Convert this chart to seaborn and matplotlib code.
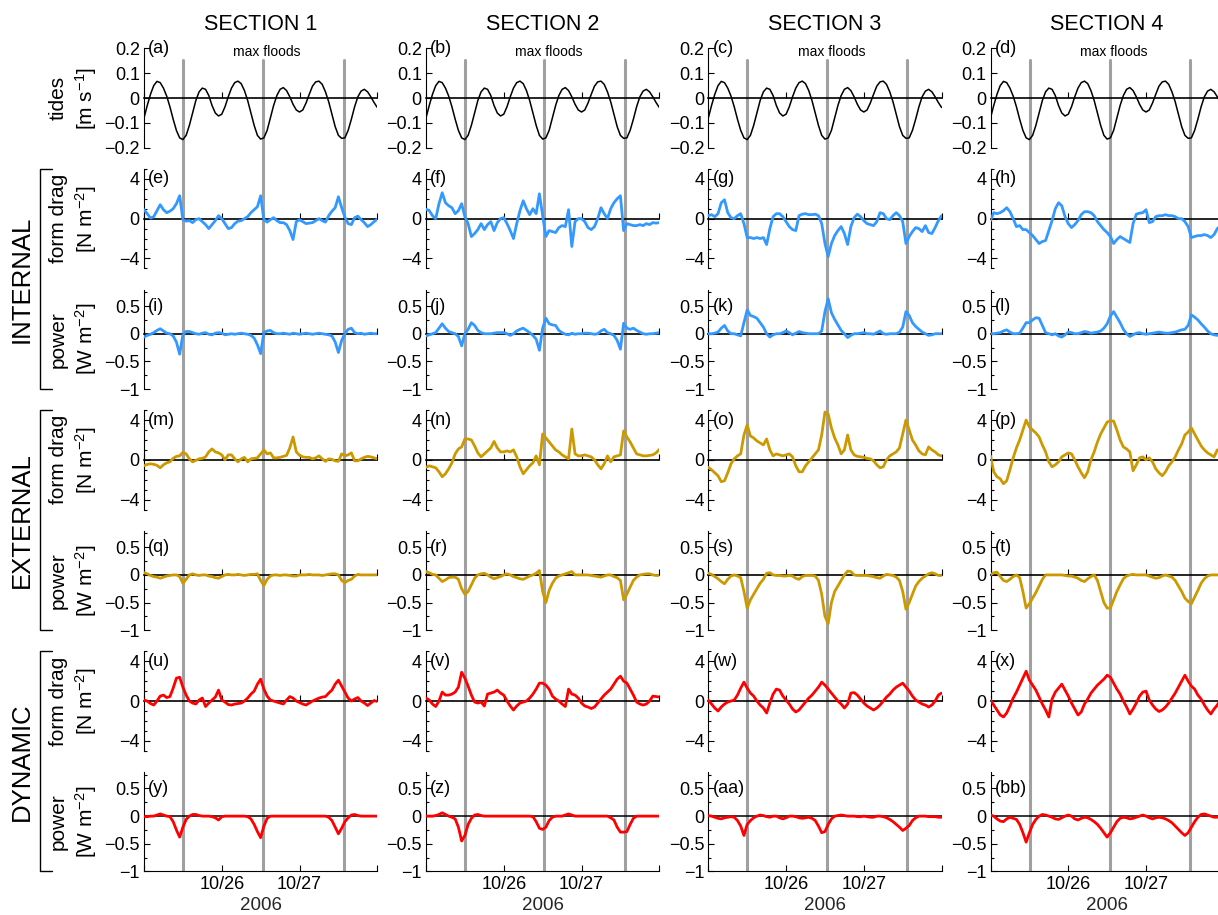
import numpy as np
import pandas as pd
import matplotlib
matplotlib.use("Agg")
import matplotlib.pyplot as plt
import matplotlib.transforms as mtransforms
from matplotlib.lines import Line2D
import seaborn as sns

# ---------------- data (hours since 2006-10-25 00:00) ----------------
hours = np.arange(0, 73)

tide = [-0.080, -0.030, 0.015, 0.050, 0.067, 0.062, 0.040, 0.008, -0.035, -0.085, -0.130, -0.160,
        -0.167, -0.150, -0.110, -0.060, -0.010, 0.025, 0.040, 0.035, 0.010, -0.030, -0.060, -0.072,
        -0.065, -0.035, 0.005, 0.040, 0.062, 0.068, 0.058, 0.030, -0.010, -0.060, -0.110, -0.150,
        -0.165, -0.160, -0.130, -0.080, -0.030, 0.010, 0.035, 0.042, 0.030, 0.005, -0.025, -0.048,
        -0.056, -0.048, -0.020, 0.015, 0.048, 0.065, 0.068, 0.055, 0.025, -0.015, -0.065, -0.115,
        -0.150, -0.162, -0.160, -0.130, -0.085, -0.035, 0.005, 0.028, 0.035, 0.025, 0.005, -0.018,
        -0.038]

# Section 1
int_drag_1 = [0.9, 0.5, 0.05, 0.2, 0.8, 1.4, 0.9, 0.6, 0.75, 1.0, 1.5, 2.3,
              -0.1, -0.25, -0.2, -0.4, -0.1, 0.0, -0.3, -0.6, -1.0, -0.6, -0.2, 0.3,
              0.0, -0.5, -1.0, -0.9, -0.5, -0.25, -0.2, 0.0, 0.2, 0.6, 0.9, 1.2,
              2.3, -0.1, -0.35, -0.1, 0.1, -0.2, -0.4, -0.4, -0.6, -1.2, -2.1, -0.3,
              -0.1, -0.3, -0.5, -0.45, -0.4, -0.2, 0.0, -0.2, -0.35, 0.3, 0.75, 1.1,
              2.2, 1.1, 0.15, -0.5, -0.6, 0.1, 0.25, -0.1, -0.4, -0.8, -0.6, -0.3,
              -0.05]
int_pow_1 = [-0.06, -0.03, -0.01, 0.02, 0.06, 0.09, 0.05, 0.01, 0.0, -0.04, -0.15, -0.37,
             -0.02, 0.04, 0.04, 0.02, 0.0, -0.01, 0.01, 0.02, -0.01, -0.02, 0.01, 0.02,
             0.01, -0.02, -0.01, 0.0, -0.01, 0.0, 0.01, 0.0, -0.01, -0.03, -0.08, -0.2,
             -0.36, 0.02, 0.05, 0.06, 0.02, 0.0, 0.0, 0.01, 0.0, -0.01, 0.01, 0.0,
             -0.01, 0.0, 0.01, 0.0, -0.01, 0.0, 0.01, 0.0, -0.01, -0.02, -0.04, -0.15,
             -0.34, -0.12, 0.0, 0.08, 0.1, 0.02, 0.0, 0.01, -0.01, 0.0, 0.01, 0.0,
             0.0]
ext_drag_1 = [-0.6, -0.45, -0.4, -0.45, -0.55, -0.8, -0.5, -0.3, -0.2, 0.15, 0.35, 0.4,
              0.75, 0.6, 0.1, -0.2, -0.05, 0.1, 0.15, 0.3, 0.8, 1.1, 0.8, 0.7,
              0.5, 0.0, 0.5, 0.5, 0.1, -0.2, 0.1, 0.25, -0.2, 0.1, 0.15, 0.2,
              0.6, 1.0, 0.6, 0.7, 0.2, 0.2, 0.25, 0.35, 0.45, 1.2, 2.3, 0.8,
              0.45, 0.3, 0.25, 0.25, 0.1, 0.2, 0.4, 0.1, -0.15, 0.1, 0.05, -0.1,
              -0.15, 0.6, 0.4, 0.5, 0.7, -0.1, -0.1, 0.1, 0.25, 0.35, 0.3, 0.2,
              0.1]
ext_pow_1 = [0.04, 0.02, -0.01, -0.03, -0.04, -0.06, -0.04, -0.02, -0.01, 0.0, 0.0, -0.03,
             -0.15, -0.08, 0.0, 0.02, 0.0, -0.01, 0.0, 0.0, -0.02, -0.03, -0.05, -0.06,
             -0.03, 0.0, 0.01, 0.0, 0.0, 0.01, 0.0, -0.01, 0.0, 0.01, 0.01, 0.02,
             -0.1, -0.19, -0.08, -0.02, 0.0, 0.0, -0.01, 0.0, 0.0, -0.01, -0.02, -0.02,
             0.0, 0.0, 0.0, 0.01, 0.0, 0.0, 0.0, -0.01, 0.0, 0.01, 0.02, 0.02,
             0.0, -0.1, -0.14, -0.1, -0.08, -0.02, 0.01, 0.0, 0.0, 0.0, 0.0, 0.0,
             0.0]
dyn_drag_1 = [0.1, 0.0, -0.25, -0.4, 0.0, 0.5, 0.6, 0.35, 0.45, 1.3, 2.3, 2.4,
              1.4, 0.6, 0.0, -0.2, -0.3, 0.1, 0.3, -0.55, -0.2, 0.1, 0.4, 1.1,
              0.1, -0.1, -0.35, -0.4, -0.3, -0.25, -0.2, 0.0, 0.3, 0.7, 1.0, 1.7,
              2.2, 1.2, 0.5, 0.1, 0.0, -0.1, -0.2, -0.3, 0.1, 0.45, 0.3, 0.0,
              -0.15, -0.3, -0.4, -0.2, 0.0, 0.15, 0.3, 0.4, 0.45, 0.8, 1.1, 1.7,
              2.1, 1.5, 0.9, 0.3, 0.0, 0.2, 0.35, 0.0, -0.2, -0.45, -0.2, 0.05,
              -0.05]
dyn_pow_1 = [-0.01, -0.01, 0.0, 0.0, 0.02, 0.04, 0.02, 0.0, -0.01, -0.1, -0.25, -0.38,
             -0.2, -0.06, 0.0, 0.03, 0.03, 0.01, 0.0, 0.0, 0.0, -0.01, -0.03, -0.07,
             -0.01, 0.0, 0.0, 0.0, 0.0, 0.0, 0.0, 0.0, -0.01, -0.05, -0.15, -0.28,
             -0.39, -0.18, -0.04, 0.0, 0.0, 0.0, 0.0, 0.0, 0.0, 0.0, 0.0, 0.0,
             0.0, 0.0, 0.0, 0.0, 0.0, 0.0, 0.0, 0.0, 0.0, -0.02, -0.08, -0.2,
             -0.32, -0.22, -0.1, -0.03, 0.02, 0.03, 0.01, 0.0, 0.0, 0.0, 0.0, 0.0,
             0.0]

# Section 2
int_drag_2 = [0.95, 0.8, 0.3, 0.0, 1.5, 2.6, 1.6, 1.3, 1.1, 0.5, 0.8, 1.5,
              0.2, -0.5, -1.8, -1.5, -1.1, -0.5, -1.1, -0.6, -0.3, -1.2, -0.4, 0.0,
              0.1, -0.5, -1.2, -2.0, -0.5, 0.8, 1.8, 1.0, 0.4, 1.0, 0.5, 2.5,
              0.3, -1.8, -1.2, -1.3, -1.4, -0.9, -0.7, -0.8, 0.9, -2.8, -0.3, 0.0,
              0.0, -0.3, -0.9, -1.1, -0.8, 0.0, 1.1, 0.5, 0.0, 1.0, 1.6, 2.0,
              2.3, -1.2, -0.5, -0.6, -0.7, -0.7, -0.6, -0.7, -0.5, -0.6, -0.4, -0.45,
              -0.4]
int_pow_2 = [-0.04, -0.02, 0.0, 0.02, 0.1, 0.18, 0.1, 0.04, 0.02, 0.0, -0.05, -0.22,
             0.0, 0.08, 0.2, 0.15, 0.06, 0.02, 0.0, 0.0, 0.0, 0.01, 0.02, 0.02,
             0.02, 0.0, -0.03, 0.0, 0.05, 0.08, 0.1, 0.06, 0.02, -0.03, -0.1, -0.3,
             0.1, 0.28, 0.18, 0.16, 0.15, 0.06, 0.02, -0.01, -0.02, 0.01, -0.01, 0.0,
             0.0, 0.01, 0.01, 0.0, -0.01, 0.0, 0.05, 0.08, 0.02, 0.0, -0.03, -0.12,
             -0.28, 0.19, 0.1, 0.08, 0.1, 0.06, 0.03, 0.0, -0.01, 0.0, 0.0, 0.01,
             0.02]
ext_drag_2 = [-0.75, -0.6, -0.7, -0.8, -1.2, -1.7, -1.4, -0.9, -0.3, 0.6, 1.1, 1.3,
              2.1, 2.1, 2.0, 1.4, 0.7, 0.3, 0.6, 0.9, 1.2, 1.85, 1.2, 0.8,
              0.8, 0.9, 0.8, 1.0, 0.3, -0.7, -1.4, -1.0, -0.6, -0.3, 0.4, -0.5,
              2.6, 2.2, 1.8, 1.4, 1.0, 0.8, 0.5, 0.3, 0.1, 3.1, 0.6, 0.4,
              0.4, 0.5, 0.4, 0.3, 0.0, -0.5, -0.9, -0.4, 0.4, -0.2, 0.3, 0.4,
              0.5, 2.9, 2.3, 1.8, 1.2, 0.6, 0.5, 0.4, 0.4, 0.45, 0.5, 0.7,
              1.05]
ext_pow_2 = [0.06, 0.04, 0.01, 0.0, -0.06, -0.12, -0.09, -0.05, -0.04, -0.04, -0.08, -0.25,
             -0.35, -0.3, -0.18, -0.06, 0.0, 0.02, 0.03, 0.0, -0.04, -0.07, -0.05, -0.03,
             0.0, 0.02, 0.0, -0.03, -0.05, -0.07, -0.08, -0.05, -0.02, 0.0, 0.03, 0.08,
             -0.3, -0.5, -0.28, -0.15, -0.06, -0.02, 0.0, 0.02, 0.04, 0.06, 0.0, 0.0,
             0.0, 0.0, 0.0, -0.01, -0.02, -0.03, -0.04, -0.02, 0.0, 0.0, -0.03, -0.05,
             -0.1, -0.45, -0.35, -0.22, -0.1, -0.04, 0.0, 0.01, 0.02, 0.02, 0.0, -0.01,
             -0.01]
dyn_drag_2 = [0.3, 0.1, -0.3, -0.55, 0.0, 0.9, 0.6, 0.6, 0.7, 0.9, 1.4, 2.9,
              2.3, 1.5, 0.6, -0.1, -0.2, -0.1, -0.5, 0.7, 0.8, 0.9, 1.1, 0.8,
              0.6, 0.0, -0.5, -0.9, -0.5, -0.2, -0.1, 0.0, 0.3, 0.7, 1.2, 1.8,
              1.8, 1.6, 1.2, 0.5, 0.2, 0.0, -0.3, -0.55, 1.2, 0.7, 0.6, 0.3,
              -0.2, -0.5, -0.6, -0.75, -0.6, -0.2, 0.2, 0.6, 0.9, 1.2, 1.7, 2.2,
              2.5, 2.0, 1.8, 1.2, 0.6, -0.1, -0.3, -0.4, -0.3, 0.0, 0.5, 0.45,
              0.4]
dyn_pow_2 = [0.0, 0.0, 0.0, 0.01, 0.03, 0.06, 0.03, 0.0, -0.02, -0.05, -0.2, -0.45,
             -0.35, -0.15, -0.04, 0.02, 0.03, 0.01, 0.0, 0.0, 0.0, 0.0, 0.0, 0.0,
             0.0, 0.0, 0.0, 0.0, 0.0, 0.0, 0.0, 0.0, 0.0, -0.01, -0.1, -0.22,
             -0.24, -0.2, -0.08, -0.02, 0.0, 0.0, 0.0, 0.02, 0.04, 0.02, 0.0, 0.0,
             0.0, 0.0, 0.0, 0.0, 0.0, 0.0, 0.0, 0.0, 0.0, -0.03, -0.07, -0.2,
             -0.29, -0.29, -0.28, -0.15, -0.04, 0.0, 0.0, 0.0, 0.0, 0.0, 0.0, 0.0,
             0.0]

# Section 3
int_drag_3 = [0.3, 0.4, 0.2, 0.5, 1.6, 1.9, 0.6, 0.1, 0.0, 0.3, 0.5, -0.5,
              -1.9, -1.9, -2.0, -1.9, -2.0, -1.9, -2.6, -1.0, 0.2, 0.5, 0.5, 0.2,
              -0.3, -0.8, -1.1, -1.2, 0.3, 0.45, 0.5, 0.4, 0.4, 0.45, 0.3, -0.5,
              -2.5, -3.8, -2.5, -1.7, -1.2, -0.8, -1.5, -2.6, -0.8, 0.1, 0.45, 0.2,
              -0.2, -0.5, -0.6, -0.7, -0.3, 0.6, 0.5, 0.0, -0.1, 0.3, 0.6, 0.3,
              -0.3, -2.5, -1.8, -1.3, -0.9, -1.0, -1.3, -0.7, -1.4, -1.5, -0.9, -0.2,
              0.3]
int_pow_3 = [0.0, 0.0, 0.01, 0.03, 0.1, 0.15, 0.05, 0.0, 0.0, -0.02, -0.04, 0.2,
             0.43, 0.33, 0.31, 0.28, 0.2, 0.12, 0.0, -0.06, -0.02, 0.0, 0.0, 0.02,
             0.05, 0.02, -0.02, 0.01, 0.04, 0.02, 0.01, 0.0, 0.0, 0.0, 0.0, 0.05,
             0.4, 0.63, 0.38, 0.26, 0.16, 0.06, 0.0, -0.07, -0.03, 0.0, 0.0, 0.01,
             0.02, 0.0, 0.0, -0.01, 0.02, 0.05, 0.0, -0.01, 0.0, 0.0, 0.0, 0.03,
             0.12, 0.4, 0.33, 0.2, 0.13, 0.08, 0.03, 0.0, -0.03, -0.02, 0.0, 0.0,
             0.0]
ext_drag_3 = [-0.75, -1.0, -1.3, -1.6, -2.2, -2.1, -1.3, -0.4, 0.1, 0.4, 0.6, 2.5,
              3.5, 2.4, 2.2, 1.9, 1.7, 1.5, 2.1, 1.0, 0.4, 0.6, 0.5, 0.4,
              0.5, 0.6, 0.3, -0.6, -1.2, -1.2, -0.6, -0.2, 0.2, 0.6, 1.0, 2.5,
              4.8, 4.6, 3.2, 2.2, 1.5, 0.6, 1.0, 2.5, 1.0, 0.5, 0.35, 0.3,
              0.25, 0.15, 0.1, -0.1, -0.5, -0.8, -0.7, 0.0, 0.4, 0.6, 0.8, 1.2,
              2.6, 4.0, 3.0, 2.0, 1.5, 0.9, 0.6, 0.5, 1.3, 1.0, 0.8, 0.5,
              0.4]
ext_pow_3 = [0.03, 0.01, -0.03, -0.07, -0.12, -0.16, -0.08, -0.02, 0.0, -0.02, -0.05, -0.3,
             -0.6, -0.45, -0.35, -0.25, -0.15, -0.08, 0.03, 0.04, 0.0, -0.01, -0.01, -0.02,
             -0.02, -0.01, -0.02, -0.06, -0.08, -0.03, -0.01, -0.01, -0.01, -0.02, -0.1, -0.35,
             -0.75, -0.88, -0.5, -0.3, -0.2, -0.1, 0.0, 0.07, 0.06, 0.0, -0.01, -0.01,
             -0.01, -0.01, -0.02, -0.03, -0.05, -0.06, -0.02, 0.01, 0.0, -0.01, -0.04, -0.1,
             -0.3, -0.62, -0.5, -0.35, -0.2, -0.12, -0.06, -0.02, 0.02, 0.04, 0.02, -0.01,
             -0.01]
dyn_drag_3 = [0.1, -0.3, -0.7, -1.0, -0.6, -0.3, -0.1, 0.0, 0.1, 0.6, 1.3, 1.9,
              1.3, 0.8, 0.5, 0.0, -0.4, -0.7, -1.2, -0.2, 0.7, 1.2, 1.1, 0.5,
              0.1, -0.3, -0.8, -1.1, -0.9, -0.5, -0.1, 0.3, 0.6, 1.0, 1.4, 1.9,
              1.6, 1.2, 0.8, 0.4, 0.0, -0.3, -0.7, -0.3, 0.8, 0.85, 0.6, 0.2,
              -0.2, -0.5, -0.7, -0.9, -0.7, -0.4, 0.0, 0.4, 0.7, 1.1, 1.4, 1.6,
              1.8, 1.4, 1.0, 0.5, 0.1, -0.1, -0.3, -0.4, -0.6, -0.4, 0.0, 0.6,
              0.8]
dyn_pow_3 = [0.01, 0.0, -0.02, -0.04, -0.05, -0.03, -0.02, -0.01, -0.02, -0.08, -0.18, -0.35,
             -0.15, -0.08, -0.03, 0.0, 0.02, 0.01, -0.01, -0.02, 0.0, 0.0, -0.03, -0.05,
             -0.03, 0.0, 0.0, -0.01, -0.03, -0.04, -0.03, -0.02, -0.04, -0.08, -0.18, -0.3,
             -0.28, -0.15, -0.05, 0.0, 0.01, 0.02, 0.01, 0.0, 0.0, 0.0, -0.01, -0.01,
             0.0, -0.01, -0.02, -0.02, 0.0, 0.0, -0.01, -0.03, -0.06, -0.1, -0.15, -0.2,
             -0.26, -0.22, -0.17, -0.08, -0.03, 0.0, 0.0, 0.0, -0.01, -0.01, -0.01, -0.02,
             -0.02]

# Section 4
int_drag_4 = [-0.2, 0.6, 0.5, 0.6, 0.8, 1.1, 0.7, 0.0, -0.8, -0.7, -1.1, -1.1,
              -1.4, -1.7, -2.1, -2.5, -2.3, -2.2, -1.2, -0.2, 1.0, 1.6, 1.3, 0.2,
              -0.5, -0.9, -0.6, -0.2, 0.4, 0.7, 0.7, 0.6, 0.3, -0.3, -0.7, -1.1,
              -1.4, -1.8, -2.5, -2.1, -1.8, -2.0, -2.2, -2.4, -0.5, 0.45, 0.55, 0.6,
              0.9, -0.4, -0.3, 0.2, 0.3, 0.3, 0.4, 0.3, 0.3, 0.2, 0.0, 0.0,
              -0.3, -0.8, -1.9, -1.8, -1.7, -1.7, -1.6, -1.7, -1.9, -1.6, -1.0, -0.7,
              -0.5]
int_pow_4 = [0.0, 0.0, 0.01, 0.02, 0.05, 0.07, 0.03, 0.0, 0.0, 0.01, 0.1, 0.2,
             0.2, 0.25, 0.29, 0.28, 0.15, 0.02, 0.0, -0.02, 0.0, -0.04, -0.06, -0.02,
             0.03, 0.02, 0.0, 0.0, 0.02, 0.04, 0.03, 0.01, 0.02, 0.03, 0.05, 0.1,
             0.18, 0.32, 0.4, 0.3, 0.2, 0.08, 0.0, -0.05, -0.02, 0.01, 0.02, 0.0,
             -0.01, 0.0, 0.01, 0.02, 0.03, 0.02, 0.01, 0.01, 0.02, 0.03, 0.05, 0.07,
             0.08, 0.15, 0.34, 0.3, 0.25, 0.18, 0.12, 0.05, 0.0, -0.02, -0.03, 0.0,
             0.0]
ext_drag_4 = [0.4, -1.2, -1.7, -1.9, -2.4, -2.1, -1.0, 0.2, 1.2, 2.0, 3.0, 4.0,
              3.3, 3.0, 2.7, 2.3, 1.5, 0.8, -0.2, -0.7, -0.5, -0.2, 0.3, 0.5,
              0.7, 0.6, 0.0, -0.7, -1.3, -1.8, -1.2, 0.0, 0.8, 1.8, 2.6, 3.2,
              3.8, 3.9, 3.9, 3.0, 2.0, 1.3, 1.1, 0.8, -1.1, -0.5, 0.2, 0.3,
              0.0, 0.2, -0.2, -0.9, -1.3, -1.6, -1.2, -0.6, -0.2, 0.3, 1.0, 1.6,
              2.5, 2.8, 3.2, 2.6, 2.0, 1.4, 1.0, 0.7, 0.5, 0.3, 1.0, 0.9,
              1.0]
ext_pow_4 = [0.0, 0.04, 0.05, -0.03, -0.1, -0.12, -0.08, -0.03, 0.0, -0.05, -0.3, -0.6,
             -0.52, -0.42, -0.32, -0.2, -0.08, 0.0, 0.0, 0.0, 0.0, 0.0, 0.0, -0.01,
             -0.02, -0.02, -0.04, -0.06, -0.1, -0.12, -0.07, -0.03, 0.0, -0.1, -0.3, -0.5,
             -0.6, -0.6, -0.45, -0.3, -0.18, -0.07, -0.02, 0.0, 0.01, 0.0, 0.0, 0.0,
             0.0, -0.02, -0.04, -0.06, -0.05, -0.02, 0.0, -0.02, -0.04, -0.1, -0.2, -0.3,
             -0.42, -0.48, -0.52, -0.4, -0.28, -0.15, -0.07, -0.02, 0.0, 0.0, 0.0, 0.0,
             0.0]
dyn_drag_4 = [0.1, -0.4, -0.9, -1.4, -1.6, -1.2, -0.5, 0.3, 0.9, 1.6, 2.3, 3.0,
              2.1, 1.6, 1.1, 0.4, -0.3, -0.9, -1.6, 0.2, 0.9, 1.3, 1.7, 1.1,
              0.5, -0.2, -0.8, -1.4, -1.1, -0.3, 0.2, 0.8, 1.2, 1.6, 1.9, 2.2,
              2.6, 2.4, 1.8, 1.2, 0.7, 0.0, -0.6, -1.3, -0.8, -0.2, 0.5, 0.9,
              1.0, 0.1, -0.4, -0.8, -1.05, -0.9, -0.6, -0.2, 0.3, 0.8, 1.4, 2.0,
              2.6, 2.0, 1.5, 1.2, 0.6, 0.2, -0.4, -0.9, -1.3, -0.8, -0.4, 0.2,
              0.5]
dyn_pow_4 = [0.02, 0.0, -0.05, -0.09, -0.1, -0.05, -0.02, -0.04, -0.06, -0.15, -0.3, -0.47,
             -0.3, -0.15, -0.06, 0.0, 0.03, 0.02, 0.0, -0.02, -0.05, -0.06, -0.03, 0.0,
             0.02, 0.0, -0.05, -0.07, -0.04, -0.02, -0.03, -0.06, -0.1, -0.15, -0.22, -0.3,
             -0.38, -0.3, -0.2, -0.1, -0.04, -0.02, -0.03, -0.05, -0.04, -0.02, 0.0, 0.02,
             0.0, -0.03, -0.05, -0.03, -0.02, -0.03, -0.05, -0.08, -0.12, -0.18, -0.24, -0.3,
             -0.35, -0.3, -0.2, -0.1, -0.02, 0.03, 0.04, 0.02, 0.0, -0.02, -0.02, 0.0,
             0.0]

# max flood times (hours) per section
floods_1 = [11.95, 36.7, 61.6]
floods_2 = [12.05, 36.5, 61.5]
floods_3 = [12.0, 36.7, 61.4]
floods_4 = [12.2, 36.8, 61.6]

section_titles = ["SECTION 1", "SECTION 2", "SECTION 3", "SECTION 4"]
group_labels = ["INTERNAL", "EXTERNAL", "DYNAMIC"]
row_ylabels = ["tides\n[m s$^{-1}$]", "form drag\n[N m$^{-2}$]", "power\n[W m$^{-2}$]",
               "form drag\n[N m$^{-2}$]", "power\n[W m$^{-2}$]",
               "form drag\n[N m$^{-2}$]", "power\n[W m$^{-2}$]"]
panel_letters = ["a", "b", "c", "d", "e", "f", "g", "h", "i", "j", "k", "l", "m", "n",
                 "o", "p", "q", "r", "s", "t", "u", "v", "w", "x", "y", "z", "aa", "bb"]
tide_ticks = [-0.2, -0.1, 0, 0.1, 0.2]
tide_ticklabels = ["\u22120.2", "\u22120.1", "0", "0.1", "0.2"]
drag_ticks = [-4, 0, 4]
drag_ticklabels = ["\u22124", "0", "4"]
power_ticks = [-1, -0.5, 0, 0.5]
power_ticklabels = ["\u22121", "\u22120.5", "0", "0.5"]
x_ticks = [0, 24, 48, 72]
x_ticklabels = ["", "10/26", "10/27", ""]
year_label = "2006"
flood_label = "max floods"

# ---------------- style ----------------
sns.set_theme(style="ticks")
plt.rcParams['font.family'] = ['Liberation Sans', 'DejaVu Sans']
plt.rcParams['mathtext.fontset'] = 'custom'
plt.rcParams['mathtext.rm'] = 'Liberation Sans'
plt.rcParams['mathtext.it'] = 'Liberation Sans:italic'
plt.rcParams['mathtext.bf'] = 'Liberation Sans:bold'
plt.rcParams['axes.edgecolor'] = 'black'
plt.rcParams['xtick.color'] = 'black'
plt.rcParams['ytick.color'] = 'black'
plt.rcParams['text.color'] = 'black'

BLUE = "#3399ff"
GOLD = "#cc9900"
RED = "#ff0000"
GRAY = "#a0a0a0"

W, H = 1218, 915
fig = plt.figure(figsize=(W / 100, H / 100), dpi=100)
fig.patch.set_facecolor('white')

col_left = [144, 426, 708.3, 990.5]
ax_w = 233.3
row_top0, row_step, ax_h = 48.3, 120.6, 99.5


def rect(c, r):
    top = row_top0 + r * row_step
    return [col_left[c] / W, 1 - (top + ax_h) / H, ax_w / W, ax_h / H]


series = [
    [tide, tide, tide, tide],
    [int_drag_1, int_drag_2, int_drag_3, int_drag_4],
    [int_pow_1, int_pow_2, int_pow_3, int_pow_4],
    [ext_drag_1, ext_drag_2, ext_drag_3, ext_drag_4],
    [ext_pow_1, ext_pow_2, ext_pow_3, ext_pow_4],
    [dyn_drag_1, dyn_drag_2, dyn_drag_3, dyn_drag_4],
    [dyn_pow_1, dyn_pow_2, dyn_pow_3, dyn_pow_4],
]
row_kind = ["tide", "drag", "power", "drag", "power", "drag", "power"]
row_color = ["black", BLUE, BLUE, GOLD, GOLD, RED, RED]
floods = [floods_1, floods_2, floods_3, floods_4]

axes = [[None] * 4 for _ in range(7)]
for r in range(7):
    for c in range(4):
        ax = fig.add_axes(rect(c, r))
        axes[r][c] = ax
        ax.set_facecolor('none')
        df = pd.DataFrame({"hour": hours, "value": series[r][c]})
        lw = 1.1 if r == 0 else 2.0
        sns.lineplot(data=df, x="hour", y="value", ax=ax, color=row_color[r],
                     lw=lw, zorder=3, errorbar=None)
        ax.set_xlim(0, 72)
        kind = row_kind[r]
        if kind == "tide":
            ax.set_ylim(-0.2, 0.2)
            ax.set_yticks(tide_ticks, tide_ticklabels)
            top_val = 0.2
        elif kind == "drag":
            ax.set_ylim(-5, 5)
            ax.set_yticks(drag_ticks, drag_ticklabels)
            ax.set_yticks(np.arange(-5, 6, 1), minor=True)
            top_val = 4
        else:
            ax.set_ylim(-1, 0.8)
            ax.set_yticks(power_ticks, power_ticklabels)
            ax.set_yticks(np.arange(-1, 0.8, 0.25), minor=True)
            top_val = 0.5
        ax.set_xlabel("")
        ax.set_ylabel("")
        ax.spines['top'].set_visible(False)
        ax.spines['right'].set_visible(False)
        ax.spines['left'].set_linewidth(0.8)
        ax.set_xticks(x_ticks)
        if r < 6:
            ax.spines['bottom'].set_position(('data', 0))
            ax.spines['bottom'].set_linewidth(1.2)
            ax.set_xticklabels([])
        else:
            ax.spines['bottom'].set_linewidth(0.8)
            ax.axhline(0, color='black', lw=1.1, zorder=2)
            ax.set_xticklabels(x_ticklabels)
            ax.set_xlabel(year_label, fontsize=13.5, labelpad=3)
        ax.tick_params(axis='both', which='major', direction='in', length=4,
                       width=0.8, labelsize=13, pad=3)
        ax.tick_params(axis='y', which='minor', direction='in', length=2.5, width=0.8)
        ax.tick_params(axis='x', which='minor', bottom=False)
        # panel letter
        ax.text(0.018, top_val, "(" + panel_letters[r * 4 + c] + ")",
                transform=ax.get_yaxis_transform(), ha='left', va='center',
                fontsize=13, zorder=5)
        if r == 0:
            ax.text(38, 0.963, flood_label, transform=ax.get_xaxis_transform(),
                    ha='center', va='center', fontsize=10)

# gray max-flood lines spanning all rows of each column
for c in range(4):
    trans = mtransforms.blended_transform_factory(axes[0][c].transData, fig.transFigure)
    for fh in floods[c]:
        fig.add_artist(Line2D([fh, fh], [1 - 60 / H, 1 - 869.5 / H], transform=trans,
                              color=GRAY, lw=2.2, zorder=-1))

# section titles
for c in range(4):
    fig.text((col_left[c] + ax_w / 2) / W, 1 - 24 / H, section_titles[c],
             ha='center', va='center', fontsize=15.5)

# row y labels (left column only)
for r in range(7):
    yc = 1 - (row_top0 + r * row_step + ax_h / 2) / H
    fig.text(74 / W, yc, row_ylabels[r], rotation=90, ha='center', va='center',
             fontsize=15, linespacing=1.3, multialignment='center')

# group labels with brackets
for g in range(3):
    r0, r1 = 1 + 2 * g, 2 + 2 * g
    ytop = row_top0 + r0 * row_step
    ybot = row_top0 + r1 * row_step + ax_h
    xs = [52 / W, 40 / W, 40 / W, 52 / W]
    ys = [1 - ytop / H, 1 - ytop / H, 1 - ybot / H, 1 - ybot / H]
    fig.add_artist(Line2D(xs, ys, transform=fig.transFigure, color='black', lw=1.0))
    fig.text(22 / W, 1 - (ytop + ybot) / 2 / H, group_labels[g], rotation=90,
             ha='center', va='center', fontsize=18.5)

fig.savefig("out.png", dpi=100)
